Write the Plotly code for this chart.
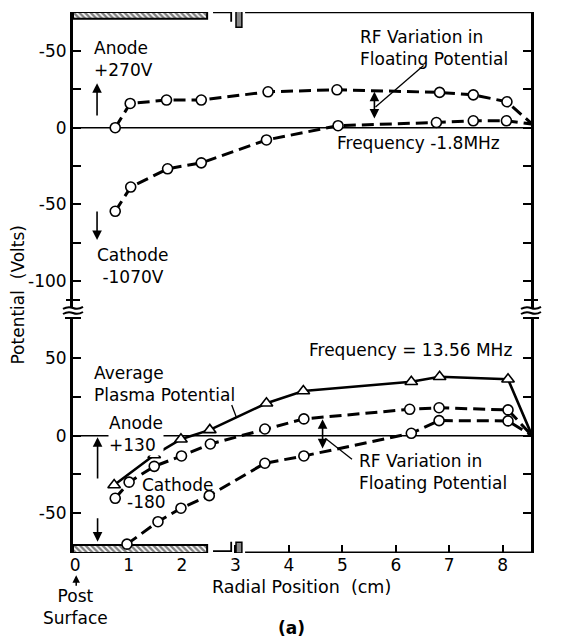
import plotly.graph_objects as go

# ---------------- data ----------------
# Upper panel: Frequency ~1.8 MHz, RF variation in floating potential
x_top_upper = [0.75, 1.03, 1.71, 2.36, 3.61, 4.90, 6.82, 7.45, 8.08, 8.55]
v_top_upper = [0.0, 15.8, 18.0, 18.0, 23.4, 24.7, 23.0, 21.4, 16.9, 2.4]
x_top_lower = [0.75, 1.04, 1.73, 2.36, 3.58, 4.92, 6.76, 7.45, 8.07, 8.55]
v_top_lower = [-54.5, -38.7, -26.8, -22.9, -8.0, 1.3, 3.4, 4.5, 4.5, 2.4]

# Lower panel: Frequency = 13.56 MHz
x_plasma = [0.73, 1.48, 1.98, 2.52, 3.58, 4.27, 6.29, 6.82, 8.10, 8.55]
v_plasma = [-31.8, -12.5, -2.3, 3.7, 20.9, 28.8, 34.8, 38.0, 36.4, 0.0]
x_bot_upper = [0.75, 1.01, 1.48, 1.99, 2.53, 3.55, 4.28, 6.26, 6.81, 8.10, 8.55]
v_bot_upper = [-40.4, -30.0, -19.8, -13.1, -5.4, 4.3, 10.8, 17.0, 18.0, 16.6, 0.0]
x_bot_lower = [0.97, 1.55, 1.98, 2.51, 3.55, 4.28, 6.29, 6.81, 8.10, 8.55]
v_bot_lower = [-70.0, -55.5, -46.8, -38.7, -17.8, -13.1, 1.5, 9.7, 9.5, 0.0]

x_ticks = [0, 1, 2, 3, 4, 5, 6, 7, 8]
top_ytick_vals = [50, 25, 0, -25, -50, -75, -100]
top_ytick_text = ["-50", "", "0", "", "-50", "", "-100"]
bot_ytick_vals = [50, 25, 0, -25, -50]
bot_ytick_text = ["50", "", "0", "", "-50"]

# electrode (post) geometry, cm
post_x = [-0.04, 2.47]
ring_x = [3.01, 3.12]
gap_x = [2.58, 2.92]
wall_line_x = [3.18, 8.53]

FONT = "DejaVu Sans"
XR = [-0.04, 8.53]
Y2R = [-117.5, 75.4]
YR = [-75.7, 75.9]

fig = go.Figure()

dash = dict(color="black", width=3, dash="12px,6px")
circ = dict(symbol="circle", size=10, color="#ffffff", opacity=1,
            line=dict(color="black", width=1.6))

def curve(x, y, yaxis, line, marker, last_marker=True):
    sizes = [marker["size"]] * len(x)
    if not last_marker:
        sizes[-1] = 0
    m = dict(marker)
    m["size"] = sizes
    fig.add_trace(go.Scatter(x=x, y=y, yaxis=yaxis, xaxis="x", mode="lines+markers",
                             line=line, marker=m, opacity=1, cliponaxis=False,
                             showlegend=False))

# hatched electrode bars
def hatch(x0, x1, y0, y1, yaxis):
    fig.add_trace(go.Scatter(x=[x0, x1, x1, x0, x0], y=[y0, y0, y1, y1, y0], yaxis=yaxis,
                             mode="lines", fill="toself", line=dict(color="black", width=2),
                             fillcolor="white",
                             fillpattern=dict(shape="\\", size=4, solidity=0.6,
                                              fgcolor="black", bgcolor="white"),
                             showlegend=False, hoverinfo="skip"))

hatch(post_x[0], post_x[1], 71.0, Y2R[1], "y2")
hatch(post_x[0], post_x[1], YR[0], -70.5, "y")

curve(x_top_upper, v_top_upper, "y2", dash, circ)
curve(x_top_lower, v_top_lower, "y2", dash, circ)
curve(x_bot_upper, v_bot_upper, "y", dash, circ, last_marker=False)
curve(x_bot_lower, v_bot_lower, "y", dash, circ, last_marker=False)
curve(x_plasma, v_plasma, "y", dict(color="black", width=2.6),
      dict(symbol="triangle-up", size=11, color="#ffffff", opacity=1,
           line=dict(color="black", width=1.6)),
      last_marker=False)

shapes = []
# zero reference lines
shapes.append(dict(type="line", xref="x domain", x0=0, x1=1, yref="y2", y0=0, y1=0,
                   line=dict(color="black", width=1.5), layer="below"))
shapes.append(dict(type="line", xref="x domain", x0=0, x1=1, yref="y", y0=0, y1=0,
                   line=dict(color="black", width=1.5), layer="below"))
# top border pieces
shapes.append(dict(type="line", xref="x", x0=wall_line_x[0], x1=wall_line_x[1], yref="y2",
                   y0=Y2R[1], y1=Y2R[1], line=dict(color="black", width=2.5)))
shapes.append(dict(type="path", xref="x", yref="y2",
                   path=f"M {gap_x[0]},{Y2R[1]-0.3} L {gap_x[1]},{Y2R[1]-0.3} L {gap_x[1]},69",
                   line=dict(color="black", width=1.8)))
shapes.append(dict(type="rect", xref="x", x0=ring_x[0], x1=ring_x[1], yref="y2", y0=65.5, y1=76.5,
                   line=dict(color="black", width=1.5), fillcolor="#888888"))
# bottom border pieces
shapes.append(dict(type="line", xref="x", x0=wall_line_x[0], x1=wall_line_x[1], yref="y",
                   y0=YR[0], y1=YR[0], line=dict(color="black", width=3)))
shapes.append(dict(type="path", xref="x", yref="y",
                   path=f"M {gap_x[0]},-74.5 L {gap_x[1]},-74.5 L {gap_x[1]},-68.5",
                   line=dict(color="black", width=1.8)))
shapes.append(dict(type="rect", xref="x", x0=ring_x[0], x1=ring_x[1], yref="y", y0=-75.7, y1=-68.8,
                   line=dict(color="black", width=1.5), fillcolor="#888888"))

# axis break marks
for xa in (0, 1):
    shapes.append(dict(type="path", xref="paper", xsizemode="pixel", xanchor=xa,
                       yref="paper", ysizemode="pixel", yanchor=0.4529,
                       path="M -7,8 L 7,8", line=dict(color="black", width=2)))
    shapes.append(dict(type="path", xref="paper", xsizemode="pixel", xanchor=xa,
                       yref="paper", ysizemode="pixel", yanchor=0.4529,
                       path="M -10,-1 Q -5,2 0,0 Q 5,-2 10,1", line=dict(color="black", width=2)))
    shapes.append(dict(type="path", xref="paper", xsizemode="pixel", xanchor=xa,
                       yref="paper", ysizemode="pixel", yanchor=0.4344,
                       path="M -8,0 L 8,0", line=dict(color="black", width=2)))
    shapes.append(dict(type="path", xref="paper", xsizemode="pixel", xanchor=xa,
                       yref="paper", ysizemode="pixel", yanchor=0.4344,
                       path="M -10,4 Q -5,7 0,5 Q 5,3 10,6", line=dict(color="black", width=2)))

# pointer lines
shapes.append(dict(type="line", xref="x", yref="y2", x0=6.52, y0=40.5, x1=5.62, y1=13.5,
                   line=dict(color="black", width=1.3)))
shapes.append(dict(type="line", xref="x", yref="y", x0=2.93, y0=19.8, x1=3.02, y1=11.6,
                   line=dict(color="black", width=1.3)))
shapes.append(dict(type="line", xref="x", yref="y", x0=4.68, y0=-1.7, x1=5.18, y1=-15.2,
                   line=dict(color="black", width=1.3)))

ann = []
tf = dict(family=FONT, size=17, color="black")

def text(x, y, s, yref, xanchor="left", align="left", **kw):
    ann.append(dict(x=x, y=y, xref="x", yref=yref, text=s, showarrow=False, font=tf,
                    xanchor=xanchor, yanchor="middle", align=align, **kw))

def arrow(x, y_tail, y_head, yref, both=False):
    ann.append(dict(x=x, y=y_head, ax=x, ay=y_tail, xref="x", yref=yref, axref="x", ayref=yref,
                    text="", showarrow=True, arrowhead=2, arrowsize=1.2, arrowwidth=1.6,
                    arrowcolor="black", arrowside="end+start" if both else "end",
                    standoff=0, startstandoff=0))

# upper panel texts
text(0.32, 44.8, "Anode<br>+270V", "y2")
text(0.37, -90.2, "Cathode<br>&nbsp;-1070V", "y2")
text(5.29, 52.0, "RF Variation in<br>Floating Potential", "y2")
text(4.86, -10.2, "Frequency -1.8MHz", "y2")
arrow(0.41, 7, 29, "y2")
arrow(0.41, -53.6, -73.2, "y2")
arrow(5.6, 5, 23.5, "y2", both=True)

# lower panel texts
text(4.33, 55.3, "Frequency = 13.56 MHz", "y")
text(0.31, 33.4, "Average<br>Plasma Potential", "y")
text(0.62, 1.1, "Anode<br>+130", "y", bgcolor="white", borderpad=0)
text(1.22, -31.8, "Cathode", "y")
text(0.94, -42.6, "-180", "y")
text(5.28, -23.7, "RF Variation in<br>Floating Potential", "y")
arrow(0.42, -28.6, -1.0, "y")
arrow(0.42, -52.3, -68.4, "y")
arrow(4.63, -9.2, 10.6, "y", both=True)

# below-axis texts
ann.append(dict(x=4.23, y=-0.062, xref="x", yref="paper", text="Radial Position  (cm)",
                showarrow=False, font=dict(family=FONT, size=17.5, color="black"),
                xanchor="center", yanchor="middle"))
ann.append(dict(x=0.0, y=-0.1, xref="x", yref="paper", text="Post<br>Surface",
                showarrow=False, font=tf, xanchor="center", yanchor="middle"))
ann.append(dict(x=8.6, y=-0.1, xref="x", yref="paper", text="Chamber<br>Wall",
                showarrow=False, font=tf, xanchor="center", yanchor="middle"))
ann.append(dict(x=4.05, y=-0.139, xref="x", yref="paper", text="<b>(a)</b>",
                showarrow=False, font=tf, xanchor="center", yanchor="middle"))
for xx in (0.02, 8.6):
    ann.append(dict(x=xx, y=-0.041, ax=0, ay=12, xref="x", yref="paper", axref="pixel", ayref="pixel",
                    text="", showarrow=True, arrowhead=2, arrowsize=1.0, arrowwidth=1.5,
                    arrowcolor="black", standoff=0))
ann.append(dict(x=-0.121, y=0.477, xref="paper", yref="paper", text="Potential  (Volts)",
                textangle=-90, showarrow=False, font=tf, xanchor="center", yanchor="middle"))

axis_common = dict(ticks="inside", ticklen=8, tickwidth=2, tickcolor="black",
                   tickfont=dict(family=FONT, size=17, color="black"), showgrid=False,
                   zeroline=False, layer="below traces")

fig.update_layout(
    width=573, height=639,
    margin=dict(l=73, r=42, t=12, b=86),
    paper_bgcolor="white", plot_bgcolor="white",
    font=dict(family=FONT, size=16, color="black"),
    xaxis=dict(domain=[0, 1], range=XR, anchor="y", tickvals=x_ticks,
               ticktext=[str(t) for t in x_ticks], showline=False, **axis_common),
    xaxis2=dict(domain=[0, 1], range=XR, anchor="y2", matches="x", side="top",
                tickvals=[1, 2, 4, 5, 6, 7, 8], showticklabels=False, showline=False,
                **axis_common),
    yaxis=dict(domain=[0, 0.4344], range=YR, anchor="x", tickvals=bot_ytick_vals,
               ticktext=bot_ytick_text, showline=True, linewidth=3, linecolor="black",
               mirror="ticks", **axis_common),
    yaxis2=dict(domain=[0.4529, 1], range=Y2R, anchor="x2", tickvals=top_ytick_vals,
                ticktext=top_ytick_text, showline=True, linewidth=3, linecolor="black",
                mirror="ticks", **axis_common),
    shapes=shapes, annotations=ann,
)

fig.write_html("out.html")
